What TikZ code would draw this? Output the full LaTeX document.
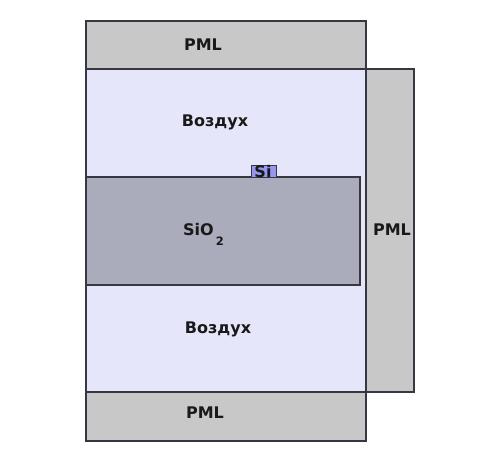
\documentclass[tikz,border=0pt]{standalone}
\usepackage{fontspec}
\setmainfont{DejaVu Sans}
\usepackage{xcolor}
\usepackage{tikz}
\usetikzlibrary{calc,positioning}

\definecolor{aircol}{RGB}{230,230,250}
\definecolor{pmlcol}{RGB}{200,200,200}
\definecolor{oxcol}{RGB}{170,172,187}
\definecolor{sicol}{RGB}{150,150,240}
\definecolor{edgecol}{RGB}{55,55,65}

\begin{document}
\begin{tikzpicture}[
    x=1pt, y=-1pt,
    region/.style={draw=edgecol, line width=1.2pt},
    air/.style={region, fill=aircol},
    pml/.style={region, fill=pmlcol},
    oxide/.style={region, fill=oxcol},
    core/.style={region, fill=sicol, line width=0.8pt},
    label/.style={anchor=base, inner sep=0pt, text=black!90, font=\bfseries\fontsize{16}{18}\selectfont}
]
    \useasboundingbox (0,0) rectangle (501,463);

    % domain
    \draw[air] (86,69) rectangle (366,392);
    \draw[pml] (86,21) rectangle (366,69);
    \draw[pml] (86,392) rectangle (366,441);
    \draw[pml] (366,69) rectangle (414,392);

    % waveguide
    \draw[oxide] (86,177) rectangle (360,285);
    \draw[core] (251,165) rectangle (276,177);

    \node[label] (pmltop) at (203,50) {PML};
    \node[label] (airtop) at (215,126.5) {Воздух};
    \node[label] (si) at (263,177) {Si};
    \node[label] (oxide) at (203.5,235.5) {SiO\kern2pt\raisebox{-9.5pt}{\fontsize{11.5}{13}\selectfont 2}};
    \node[label] (pmlright) at (392,235.5) {PML};
    \node[label] (airbot) at (218,333) {Воздух};
    \node[label] (pmlbot) at (205,418) {PML};
\end{tikzpicture}
\end{document}
